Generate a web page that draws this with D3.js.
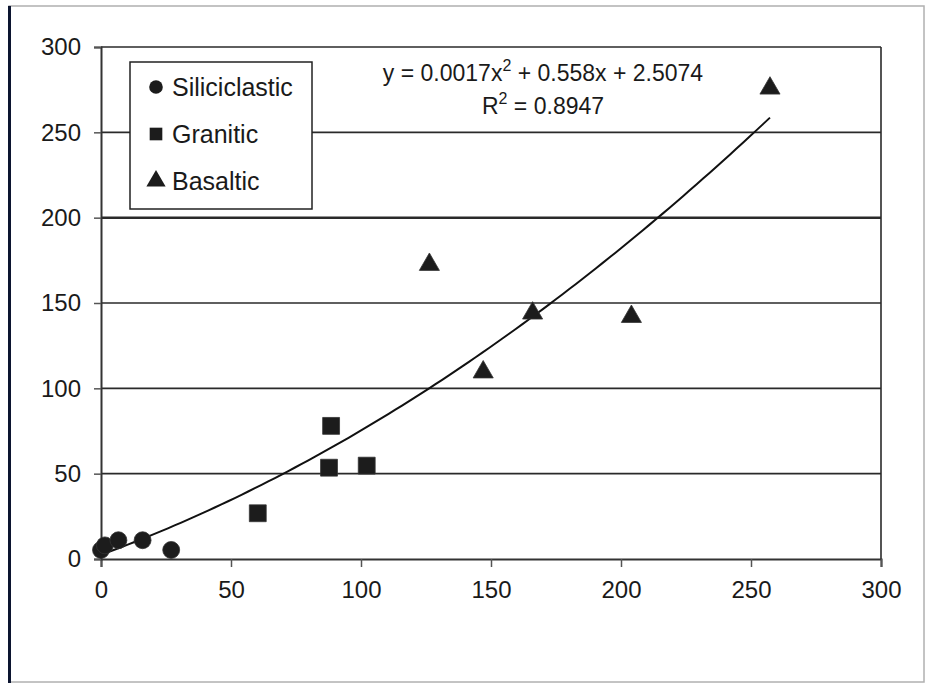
<!DOCTYPE html>
<html>
<head>
<meta charset="utf-8">
<script src="https://cdn.jsdelivr.net/npm/d3@7"></script>
<style>
    body { margin: 0; background: #fff; }
    #chart { width: 925px; height: 683px; }
    text { font-family: "Liberation Sans", Arial, sans-serif; fill: #1a1a1a; }
</style>
</head>
<body>
<div id="chart"></div>
<script>

var siliciclasticX = [0, 1.5, 6.7, 16, 27];
var siliciclasticY = [5.3, 8, 11, 11, 5.3];

var graniticX = [60.3, 87.7, 88.5, 102.2];
var graniticY = [26.8, 53.5, 78, 54.7];

var basalticX = [126.3, 147, 166, 204, 257.3];
var basalticY = [172.5, 109.5, 144, 142, 275.8];

var xTicks = [0, 50, 100, 150, 200, 250, 300];
var yTicks = [0, 50, 100, 150, 200, 250, 300];

var seriesNames = ["Siliciclastic", "Granitic", "Basaltic"];

// trendline shown on the chart: y = a x^2 + b x + c, drawn over the data range
var trendCoef = [0.0017, 0.558, 2.5074];
var trendRange = [0, 257.3];
var trendLabel = ["y = 0.0017x", "2", " + 0.558x + 2.5074"];
var r2Label = ["R", "2", " = 0.8947"];

function zip(xs, ys) {
    return xs.map(function(x, i) { return {x: x, y: ys[i]}; });
}

var width = 925;
var height = 683;
var margin = {top: 47, left: 101, right: 44, bottom: 124};

var svg = d3.select("#chart")
    .append("svg")
    .attr("width", width)
    .attr("height", height);

// outer frame
svg.append("rect")
    .attr("x", 9).attr("y", 6)
    .attr("width", 915).attr("height", 676)
    .attr("fill", "#fff")
    .attr("stroke", "#b0b0b0")
    .attr("stroke-width", 1.5);

svg.append("line")
    .attr("x1", 9.5).attr("x2", 9.5)
    .attr("y1", 6).attr("y2", 683)
    .attr("stroke", "#0c1530")
    .attr("stroke-width", 3);

var xScale = d3.scaleLinear()
    .domain([0, 300])
    .range([margin.left, width - margin.right]);

var yScale = d3.scaleLinear()
    .domain([0, 300])
    .range([height - margin.bottom, margin.top]);

// gridlines
svg.append("g")
    .selectAll("line")
    .data(yTicks.filter(function(d) { return d > 0; }))
    .enter()
    .append("line")
        .attr("x1", xScale(0))
        .attr("x2", xScale(300))
        .attr("y1", function(d) { return yScale(d); })
        .attr("y2", function(d) { return yScale(d); })
        .attr("stroke", "#2a2a2a")
        .attr("stroke-width", function(d) { return d === 200 ? 2.5 : 1.6; });

// right border of plot area
svg.append("line")
    .attr("x1", xScale(300)).attr("x2", xScale(300))
    .attr("y1", yScale(300)).attr("y2", yScale(0))
    .attr("stroke", "#2a2a2a")
    .attr("stroke-width", 1.6);

var xAxis = svg.append("g")
    .attr("class", "axis")
    .attr("transform", `translate(0,${yScale(0)})`)
    .call(d3.axisBottom(xScale).tickValues(xTicks).tickSize(8).tickPadding(14).tickFormat(d3.format("d")));

var yAxis = svg.append("g")
    .attr("class", "axis")
    .attr("transform", `translate(${xScale(0)},0)`)
    .call(d3.axisLeft(yScale).tickValues(yTicks).tickSize(7).tickPadding(13).tickFormat(d3.format("d")));

svg.selectAll(".axis path")
    .attr("stroke", "#333")
    .attr("stroke-width", 2);
svg.selectAll(".axis line")
    .attr("stroke", "#555")
    .attr("stroke-width", 1.5);
svg.selectAll(".axis text")
    .attr("font-size", 24)
    .attr("font-family", "'Liberation Sans', Arial, sans-serif")
    .attr("fill", "#1a1a1a");

// trendline
var trendPts = d3.range(0, 101).map(function(i) {
    var x = trendRange[0] + (trendRange[1] - trendRange[0]) * i / 100;
    return {x: x, y: trendCoef[0] * x * x + trendCoef[1] * x + trendCoef[2]};
});

svg.append("path")
    .datum(trendPts)
    .attr("fill", "none")
    .attr("stroke", "#111")
    .attr("stroke-width", 2)
    .attr("d", d3.line()
        .x(function(d) { return xScale(d.x); })
        .y(function(d) { return yScale(d.y); }));

// markers
var symbols = [d3.symbolCircle, d3.symbolSquare, d3.symbolTriangle];
var symSizes = [225, 285, 175];
var seriesData = [
    zip(siliciclasticX, siliciclasticY),
    zip(graniticX, graniticY),
    zip(basalticX, basalticY)
];

seriesData.forEach(function(data, k) {
    svg.append("g")
        .selectAll("path")
        .data(data)
        .enter()
        .append("path")
            .attr("transform", function(d) { return `translate(${xScale(d.x)},${yScale(d.y)})`; })
            .attr("d", d3.symbol().type(symbols[k]).size(symSizes[k]))
            .attr("fill", "#1c1c1c")
            .attr("stroke", "#333")
            .attr("stroke-width", 0.8);
});

// legend
var legend = svg.append("g")
    .attr("transform", "translate(130,62)");

legend.append("rect")
    .attr("width", 182)
    .attr("height", 147)
    .attr("fill", "#fff")
    .attr("stroke", "#222")
    .attr("stroke-width", 1.5);

var legendRows = legend.selectAll(".row")
    .data(seriesNames)
    .enter()
    .append("g")
        .attr("class", "row")
        .attr("transform", function(d, i) { return `translate(26,${25 + i * 47})`; });

legendRows.append("path")
    .attr("d", function(d, i) { return d3.symbol().type(symbols[i]).size([145, 160, 160][i])(); })
    .attr("fill", "#1c1c1c");

legendRows.append("text")
    .attr("x", 16)
    .attr("y", 9)
    .attr("font-size", 25)
    .text(function(d) { return d; });

// equation text
function labelWithSup(parts, y) {
    var t = svg.append("text")
        .attr("x", 543)
        .attr("y", y)
        .attr("text-anchor", "middle")
        .attr("font-size", 23);
    t.append("tspan").text(parts[0]);
    t.append("tspan").attr("dy", -10).attr("font-size", 16).text(parts[1]);
    t.append("tspan").attr("dy", 10).text(parts[2]);
}

labelWithSup(trendLabel, 81);
labelWithSup(r2Label, 114);

</script>
</body>
</html>
